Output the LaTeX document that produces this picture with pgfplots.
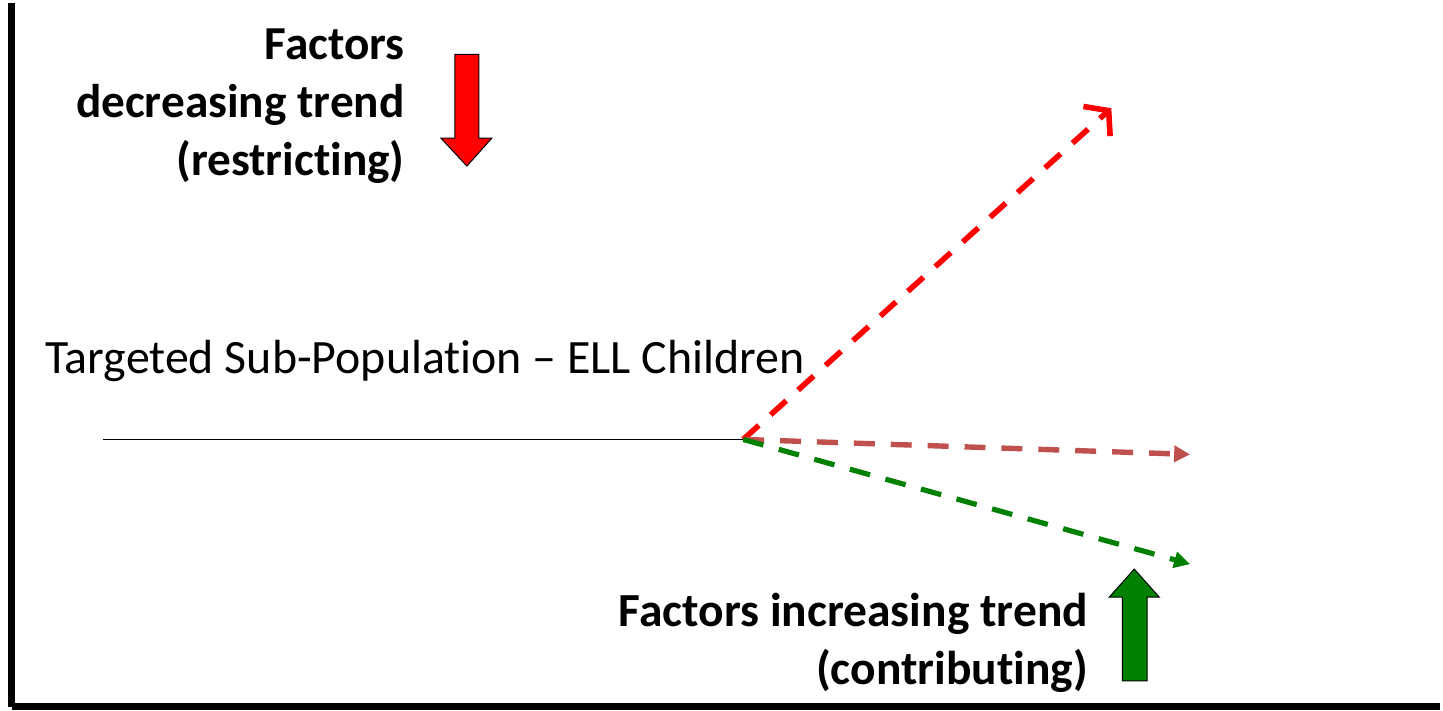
\documentclass[border=0pt]{standalone}
\usepackage{pgfplots}
\pgfplotsset{compat=1.18}
\usepackage{fontspec}
\setmainfont{Carlito}[Ligatures=NoCommon]
\usetikzlibrary{arrows.meta}
\definecolor{brownred}{HTML}{C0504D}
\definecolor{dgreen}{HTML}{008000}
\begin{document}
\begin{tikzpicture}[x=0.5pt,y=0.5pt]
\begin{axis}[
  scale only axis,
  width=715.5pt, height=352.5pt,
  xmin=12, xmax=1443, ymin=3, ymax=708,
  axis x line*=bottom, axis y line*=left,
  axis line style={line width=3.5pt, -},
  xtick=\empty, ytick=\empty,
  clip=false,
]
\path (axis cs:0,0) rectangle (axis cs:1443,708);
% baseline
\addplot[black, line width=0.7pt] coordinates {(103,271) (745,271)};
% trend arrows
\addplot[red, line width=2.8pt, dash pattern=on 10.5pt off 8pt, -{Straight Barb[length=8pt,width=20pt,line width=2.8pt]}] coordinates {(745,271) (1114,603)};
\addplot[brownred, line width=2.7pt, dash pattern=on 10.5pt off 8pt, -{Triangle[length=8pt,width=8pt]}] coordinates {(745,271) (1193,256)};
\addplot[dgreen, line width=2.6pt, dash pattern=on 10.5pt off 8pt, -{Triangle[length=8pt,width=8pt]}] coordinates {(745,271) (1193,146)};
% block arrows
\addplot[fill=red, draw=black, line width=0.5pt] coordinates {(456,657) (480,657) (480,573) (493,573) (468,545) (442,573) (456,573)} -- cycle;
\addplot[fill=dgreen, draw=black, line width=0.5pt] coordinates {(1125,29) (1150,29) (1150,113) (1162,113) (1137,141) (1112,113) (1125,113)} -- cycle;
% text
\node[anchor=east, align=right, font=\bfseries\fontsize{23.7pt}{29pt}\selectfont, inner sep=0pt] at (axis cs:406,605) {Factors\\decreasing trend\\(restricting)};
\node[anchor=west, font=\fontsize{24pt}{29pt}\selectfont, inner sep=0pt] at (axis cs:45,350) {Targeted Sub-Population – ELL Children};
\node[anchor=east, align=right, font=\bfseries\fontsize{23.8pt}{29pt}\selectfont, inner sep=0pt] at (axis cs:1091,67) {Factors increasing trend\\(contributing)};
\end{axis}
\end{tikzpicture}
\end{document}
